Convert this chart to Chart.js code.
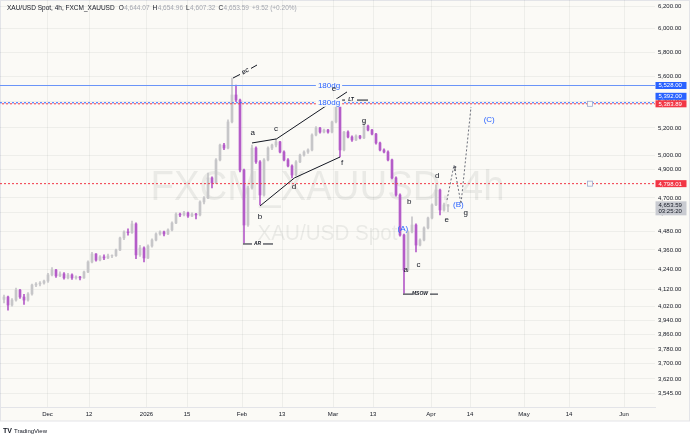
<!DOCTYPE html>
<html><head><meta charset="utf-8">
<script src="https://cdn.jsdelivr.net/npm/chart.js@4.4.1/dist/chart.umd.min.js"></script>
<style>html,body{margin:0;padding:0;background:#fff;}canvas{display:block;}</style>
</head><body>
<canvas id="c" width="690" height="437"></canvas>
<script>
// ---- data (4h candles, sampled) ----
const opens = [4060,4074,4027,4056,4115,4074,4056,4092,4145,4151,
4157,4169,4206,4236,4200,4212,4188,4206,4188,4194,
4188,4224,4285,4335,4297,4317,4310,4323,4325,4360,
4436,4475,4470,4527,4329,4373,4310,4385,4423,4462,
4475,4462,4488,4533,4592,4586,4599,4579,4592,4586,
4673,4700,4838,4803,4965,5073,5051,5245,5453,5413,
4893,4520,4768,5051,4951,4720,4965,5051,5073,5096,
5022,4965,4922,4858,4951,5000,5022,5037,5147,5199,
5169,5184,5169,5245,5367,5037,5169,5132,5110,5140,
5125,5214,5184,5154,5088,5037,5022,4965,4838,4720,
4455,4236,4475,4520,4391,4423,4501,4566,4653,4754,
4619,4644.07];
const highs = [4085,4080,4065,4127,4120,4090,4100,4150,4160,4165,
4175,4215,4250,4240,4225,4220,4215,4212,4200,4198,
4230,4292,4345,4338,4325,4330,4335,4330,4365,4442,
4482,4495,4545,4535,4390,4380,4392,4430,4470,4482,
4480,4495,4540,4600,4598,4610,4605,4600,4596,4680,
4710,4872,4845,4975,5080,5085,5260,5588,5532,5420,
4900,4780,5073,5060,4960,4975,5060,5080,5118,5100,
5030,4975,4930,4960,5008,5030,5045,5155,5210,5205,
5192,5190,5252,5405,5375,5175,5178,5140,5148,5145,
5245,5222,5190,5160,5095,5045,5030,4972,4845,4728,
4462,4482,4573,4528,4430,4508,4572,4660,4789,4760,
4665,4654.96];
const lows = [4040,3998,4020,4050,4065,4030,4050,4085,4135,4140,
4150,4160,4200,4190,4195,4180,4182,4178,4180,4175,
4185,4220,4280,4290,4292,4300,4305,4312,4320,4355,
4425,4455,4465,4305,4320,4285,4305,4378,4418,4455,
4450,4458,4482,4528,4575,4580,4570,4575,4560,4580,
4660,4695,4768,4798,4958,5040,5045,5238,5400,4880,
4404,4510,4760,4940,4653,4712,4958,5040,5060,5015,
4958,4915,4838,4850,4945,4992,5012,5030,5140,5160,
5162,5160,5162,5238,4986,5030,5125,5100,5105,5118,
5120,5178,5148,5080,5030,5015,4958,4830,4712,4448,
4097,4228,4468,4348,4385,4418,4495,4560,4648,4586,
4612,4607.32];
const closes = [4074,4027,4056,4115,4074,4056,4092,4145,4151,4157,
4169,4206,4236,4200,4212,4188,4206,4188,4194,4188,
4224,4285,4335,4297,4317,4310,4323,4325,4360,4436,
4475,4470,4527,4329,4373,4310,4385,4423,4462,4475,
4462,4488,4533,4592,4586,4599,4579,4592,4586,4673,
4700,4838,4803,4965,5073,5051,5245,5453,5413,4893,
4520,4768,5051,4951,4720,4965,5051,5073,5096,5022,
4965,4922,4858,4951,5000,5022,5037,5147,5199,5169,
5184,5169,5245,5367,5037,5169,5132,5110,5140,5125,
5214,5184,5154,5088,5037,5022,4965,4838,4720,4455,
4236,4475,4520,4391,4423,4501,4566,4653,4754,4619,
4653,4653.59];

const tickSlots  = [11.875,22.25,36.625,46.75,60.5,70.5,83.25,93.25,107.75,117.5,131,142.25,156];
const tickLabels = ['Dec','12','2026','15','Feb','13','Mar','13','Apr','14','May','14','Jun'];
const priceTicks = [3545,3620,3700,3780,3860,3940,4020,4120,4240,4360,4480,4600,4700,4900,5000,5200,5400,5600,5800,6000,6200];

const levelPrices = [5528, 5392, 5383.89, 4798.01];
const levelColors = ['#2962FF','#2962FF','#F23645','#F23645'];
const levelDashed = [false, true, true, true];
const lastPrice = 4653.59, countdown = '03:25:20';

const upperChannel = [{x:63,y:5088},{x:69.125,y:5118},{x:86.75,y:5477}];
const lowerChannel = [{x:65,y:4646},{x:73.625,y:4838},{x:85,y:4986}];
const projection   = [{x:111.75,y:4686},{x:113.5,y:4929},{x:115.25,y:4660},{x:117.75,y:5359}];

const waveText  = ['a','b','c','d','e','f','g','a','b','c','d','e','f','g'];
const waveSlot  = [63.2,65,69,73.5,83.5,85.5,91,101.4,102.3,104.6,109.3,111.7,113.75,116.4];
const wavePrice = [5164,4573,5192,4775,5500,4943,5252,4236,4675,4267,4852,4553,4905,4599];
const degText  = ['(A)','(B)','(C)'];
const degSlot  = [100.7,114.6,122.3];
const degPrice = [4494,4653,5260];
const dgText = '180dg', dgSlot = 82.25, dgPrices = [5528, 5392];

const markText  = ['BC','AR','LT','MSOW'];
const markSlot  = [61.4,64.4,87.75,105];
const markPrice = [5641,4398,5413,4091];
const markSegs = [
  [[58.25,5588],[60,5617]],[[62.75,5666],[64.25,5694]],
  [[60.75,4398],[63,4398]],[[65.75,4398],[68.25,4398]],
  [[83.75,5413],[86.25,5413]],[[89.25,5413],[92,5413]],
  [[100.75,4091],[103,4091]],[[107.5,4091],[109.5,4091]]
];

// ---- styling ----
const FONT = '"Liberation Sans", Arial, sans-serif';
const BG = '#FBFAF6';
const UP = '#C6C6C8', DOWN = '#B45CC8';
const TXT = '#131722';
const SOLIDBLUE = '#6A94F8';
const fmt = v => Number(v).toLocaleString('en-US',{minimumFractionDigits:2,maximumFractionDigits:2});
const XMAX = 163.75;

const candleColor = ctx => closes[ctx.dataIndex] >= opens[ctx.dataIndex] ? UP : DOWN;
const wickData = opens.map((o,i)=>({x:i+1, y:[lows[i], highs[i]]}));
const bodyData = opens.map((o,i)=>({x:i+1, y:[o, closes[i]]}));

function lineDs(data, color, dash, width, dashOffset){
  return {type:'line', data, borderColor:color, backgroundColor:color, borderWidth:width||1, borderDash:dash||[],
    borderDashOffset:dashOffset||0, pointRadius:0, fill:false, tension:0, spanGaps:false, order:0};
}
const datasets = [
  {type:'bar', data:wickData, backgroundColor:candleColor, barThickness:1, grouped:false, order:2},
  {type:'bar', data:bodyData, backgroundColor:candleColor, barThickness:2, grouped:false, order:1}
];
levelPrices.forEach((p,i)=>datasets.push(
  lineDs([{x:0,y:p},{x:XMAX,y:p}], levelDashed[i] ? levelColors[i] : SOLIDBLUE,
         levelDashed[i]?[2,2]:[], 1, i===2?2:0)));
datasets.push(lineDs(upperChannel, '#131722'));
datasets.push(lineDs(lowerChannel, '#131722'));
datasets.push(lineDs(projection, '#6A6D78', [2,2]));
const segPts = [];
markSegs.forEach(s=>{ segPts.push({x:s[0][0],y:s[0][1]},{x:s[1][0],y:s[1][1]},{x:s[1][0]+0.01,y:null}); });
datasets.push(lineDs(segPts, '#131722'));

const overlay = {
  id:'overlay',
  beforeDraw(chart){
    const c = chart.ctx; c.save();
    c.fillStyle = '#ffffff'; c.fillRect(0,0,690,437);
    c.fillStyle = BG; c.fillRect(0,0,690,421);
    c.strokeStyle = '#E3E4E8'; c.lineWidth = 1; c.strokeRect(0.5,0.5,689,420.5);
    c.restore();
  },
  beforeDatasetsDraw(chart){
    const c = chart.ctx, a = chart.chartArea; c.save();
    const cx = (a.left + a.right)/2;
    c.fillStyle = 'rgba(19,23,34,0.07)'; c.textAlign = 'center'; c.textBaseline = 'alphabetic';
    c.font = `42px ${FONT}`; c.fillText('FXCM_XAUUSD, 4h', cx, 200, 354);
    c.font = `22px ${FONT}`; c.fillText('XAU/USD Spot', cx, 240, 140);
    c.restore();
  },
  afterDatasetsDraw(chart){
    const c = chart.ctx, xs = chart.scales.x, ys = chart.scales.y; c.save();
    c.textAlign = 'center'; c.textBaseline = 'middle';
    c.font = `8px ${FONT}`;
    dgPrices.forEach(p=>{
      const x = xs.getPixelForValue(dgSlot), y = ys.getPixelForValue(p);
      const w = c.measureText(dgText).width;
      c.fillStyle = BG; c.fillRect(x - w/2 - 2, y - 4, w + 4, 8);
      c.fillStyle = '#2962FF'; c.fillText(dgText, x, y);
    });
    c.fillStyle = TXT; c.font = `8px ${FONT}`;
    waveText.forEach((t,i)=>c.fillText(t, xs.getPixelForValue(waveSlot[i]), ys.getPixelForValue(wavePrice[i])));
    c.fillStyle = '#2962FF';
    degText.forEach((t,i)=>c.fillText(t, xs.getPixelForValue(degSlot[i]), ys.getPixelForValue(degPrice[i])));
    c.fillStyle = TXT; c.font = `italic bold 5px ${FONT}`;
    markText.forEach((t,i)=>{
      const x = xs.getPixelForValue(markSlot[i]), y = ys.getPixelForValue(markPrice[i]);
      if (t === 'BC'){ c.save(); c.translate(x,y); c.rotate(-0.5); c.fillText(t,0,0); c.restore(); }
      else c.fillText(t, x, y);
    });
    [levelPrices[2], levelPrices[3]].forEach(p=>{
      const x = xs.getPixelForValue(147.5), y = ys.getPixelForValue(p);
      c.fillStyle = BG; c.fillRect(x-2.5, y-2.5, 5, 5);
      c.strokeStyle = '#9AA9CF'; c.lineWidth = 0.8; c.strokeRect(x-2.5, y-2.5, 5, 5);
    });
    c.restore();
  },
  afterDraw(chart){
    const c = chart.ctx, ys = chart.scales.y, a = chart.chartArea; c.save();
    const items = levelPrices.map((p,i)=>({p, y:ys.getPixelForValue(p), col:levelColors[i]}));
    items.sort((u,v)=>u.y - v.y);
    for (let i = items.length - 2; i >= 0; i--) {
      if (items[i].y > items[i+1].y - 7.5) items[i].y = items[i+1].y - 7.5;
    }
    c.font = `6px ${FONT}`; c.textBaseline = 'middle'; c.textAlign = 'left';
    const bx = a.right + 0.5, bw = 31;
    items.forEach(it=>{
      c.fillStyle = it.col; c.fillRect(bx, it.y - 3.5, bw, 7);
      c.fillStyle = '#ffffff'; c.fillText(fmt(it.p), bx + 3, it.y + 0.3);
    });
    const ly = ys.getPixelForValue(lastPrice);
    c.fillStyle = '#C9CBD1'; c.fillRect(bx, ly - 3.5, bw, 14);
    c.fillStyle = TXT; c.fillText(fmt(lastPrice), bx + 3, ly + 0.3); c.fillText(countdown, bx + 3, ly + 7);
    c.font = `6.5px ${FONT}`; c.textBaseline = 'alphabetic';
    let x = 7; const hy = 10;
    const put = (t, col, gap) => { c.fillStyle = col; c.fillText(t, x, hy); x += c.measureText(t).width + gap; };
    put('XAU/USD Spot, 4h, FXCM_XAUUSD', TXT, 4);
    const vcol = '#A3A6AF';
    put('O', TXT, 0.5); put(fmt(opens[opens.length-1]), vcol, 3);
    put('H', TXT, 0.5); put(fmt(highs[highs.length-1]), vcol, 3);
    put('L', TXT, 0.5); put(fmt(lows[lows.length-1]), vcol, 3);
    put('C', TXT, 0.5); put(fmt(closes[closes.length-1]), vcol, 3);
    const ch = closes[closes.length-1] - opens[opens.length-1];
    put('+' + ch.toFixed(2) + ' (+' + (ch/opens[opens.length-1]*100).toFixed(2) + '%)', vcol, 0);
    c.fillStyle = TXT; c.font = `bold 7px ${FONT}`; c.fillText('TV', 3, 433);
    c.font = `6px ${FONT}`; c.fillText('TradingView', 14, 433);
    c.restore();
  }
};

Chart.defaults.font.family = FONT;
new Chart(document.getElementById('c'), {
  type:'bar',
  data:{datasets},
  options:{
    responsive:false, animation:false, devicePixelRatio:1,
    layout:{padding:{left:0,right:0,top:0,bottom:16}},
    plugins:{legend:{display:false}, tooltip:{enabled:false}},
    scales:{
      x:{type:'linear', min:0, max:XMAX, offset:false,
        grid:{offset:false, color:'rgba(42,46,57,0.06)', drawTicks:false},
        border:{display:true, color:'#E3E4E8'},
        afterBuildTicks:s=>{ s.ticks = tickSlots.map(v=>({value:v})); },
        afterFit:s=>{ s.height = 14; s.paddingLeft = 0; s.paddingRight = 0; },
        ticks:{autoSkip:false, maxRotation:0, padding:4, color:TXT, font:{size:6},
          callback:(v,i)=>tickLabels[i]}
      },
      y:{type:'logarithmic', position:'right', min:3476, max:6254, bounds:'data',
        grid:{color:'rgba(42,46,57,0.06)', drawTicks:false},
        border:{display:false},
        afterBuildTicks:s=>{ s.ticks = priceTicks.map(v=>({value:v})); },
        afterFit:s=>{ s.width = 35; s.paddingTop = 0; s.paddingBottom = 0; },
        ticks:{autoSkip:false, padding:3, color:TXT, font:{size:6}, crossAlign:'near',
          callback:v=>fmt(v)}
      }
    }
  },
  plugins:[overlay]
});
</script>
</body></html>
